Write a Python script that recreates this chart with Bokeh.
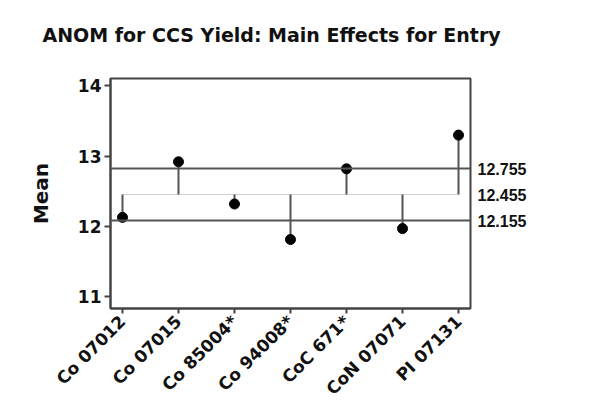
import math
from bokeh.plotting import figure
from bokeh.models import Range1d, FixedTicker, Span, Title, LinearAxis
from bokeh.embed import file_html
from bokeh.resources import INLINE

entries = ["Co 07012", "Co 07015", "Co 85004*", "Co 94008*", "CoC 671*", "CoN 07071", "PI 07131"]
means = [12.13, 12.92, 12.32, 11.815, 12.82, 11.97, 13.30]
center = 12.455
udl = 12.825
ldl = 12.085
limit_labels = ["12.755", "12.455", "12.155"]
y_ticks = [11, 12, 13, 14]

xs = list(range(len(entries)))

p = figure(width=575, height=410, output_backend="svg", toolbar_location=None,
           x_range=Range1d(-0.214, 6.214), y_range=Range1d(10.834, 14.105),
           min_border_left=110, min_border_right=105, min_border_top=78, min_border_bottom=102,
           title="ANOM for CCS Yield: Main Effects for Entry")

p.title.text_font = "DejaVu Sans"
p.title.text_font_size = "19px"
p.title.text_font_style = "bold"
p.title.text_color = "#111"
p.title.align = "left"
p.title.offset = -68

p.add_layout(Title(text=" ", text_font_size="14px"), "above")

p.grid.visible = False
p.outline_line_color = "#444"
p.outline_line_width = 2

for ax in (p.xaxis[0], p.yaxis[0]):
    ax.axis_line_color = "#444"
    ax.axis_line_width = 2
    ax.major_tick_line_color = "#444"
    ax.major_tick_line_width = 2
    ax.minor_tick_line_color = None
    ax.major_tick_in = 0
    ax.major_label_text_font = "DejaVu Sans"
    ax.major_label_text_font_style = "bold"
    ax.major_label_text_color = "#111"

p.yaxis.ticker = FixedTicker(ticks=y_ticks)
p.yaxis.major_tick_out = 6
p.yaxis.major_label_text_font_size = "17px"
p.yaxis.major_label_standoff = 3
p.yaxis.axis_label = "Mean"
p.yaxis.axis_label_text_font = "DejaVu Sans"
p.yaxis.axis_label_text_font_size = "20px"
p.yaxis.axis_label_text_font_style = "bold"
p.yaxis.axis_label_text_color = "#111"
p.yaxis.axis_label_standoff = 22

p.xaxis.ticker = FixedTicker(ticks=xs)
p.xaxis.major_label_overrides = {i: e for i, e in enumerate(entries)}
p.xaxis.major_tick_out = 5
p.xaxis.major_label_orientation = math.pi / 4
p.xaxis.major_label_text_font_size = "17px"
p.xaxis.major_label_standoff = 5

right = LinearAxis(ticker=FixedTicker(ticks=[udl, center, ldl]),
                   major_label_overrides={udl: limit_labels[0], center: limit_labels[1], ldl: limit_labels[2]},
                   axis_line_color=None, major_tick_line_color=None, minor_tick_line_color=None,
                   major_tick_out=0, major_tick_in=0, major_label_standoff=7,
                   major_label_text_font="Liberation Sans", major_label_text_font_style="bold",
                   major_label_text_font_size="16px", major_label_text_color="#111")
p.add_layout(right, "right")

p.add_layout(Span(location=udl, dimension="width", line_color="#555", line_width=2))
p.add_layout(Span(location=ldl, dimension="width", line_color="#555", line_width=2))
p.segment(x0=xs[0], y0=center, x1=xs[-1], y1=center, line_color="#d0d0d0", line_width=1)

p.segment(x0=xs, y0=[center] * len(xs), x1=xs, y1=means, line_color="#555", line_width=2)
p.scatter(xs, means, size=10, color="black")

open("out.html", "w").write(file_html(p, INLINE))
